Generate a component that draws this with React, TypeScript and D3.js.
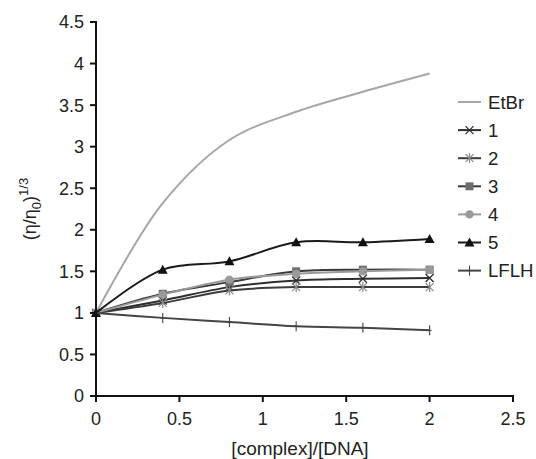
import React from 'react';
import * as d3 from 'd3';

// ratio values [complex]/[DNA]
const ratios = [0, 0.4, 0.8, 1.2, 1.6, 2];

const etbr = [1, 2.32, 3.08, 3.42, 3.66, 3.88];
const c1 = [1, 1.15, 1.31, 1.39, 1.41, 1.42];
const c2 = [1, 1.12, 1.27, 1.31, 1.31, 1.31];
const c3 = [1, 1.23, 1.37, 1.5, 1.52, 1.52];
const c4 = [1, 1.22, 1.4, 1.47, 1.5, 1.52];
const c5 = [1, 1.52, 1.62, 1.85, 1.85, 1.89];
const lflh = [1, 0.94, 0.89, 0.84, 0.82, 0.79];

const xTicks = [0, 0.5, 1, 1.5, 2, 2.5];
const yTicks = [0, 0.5, 1, 1.5, 2, 2.5, 3, 3.5, 4, 4.5];

const seriesNames = ['EtBr', '1', '2', '3', '4', '5', 'LFLH'];
const seriesValues = [etbr, c1, c2, c3, c4, c5, lflh];
const seriesColors = ['#a6a6a6', '#2e2e2e', '#3c3c3c', '#3a3a3a', '#9a9a9a', '#1a1a1a', '#444444'];
const markerTypes = ['none', 'x', 'star', 'square', 'circle', 'triangle', 'plus'];
const markerColors = ['#a6a6a6', '#2e2e2e', '#8a8a8a', '#6e6e6e', '#9a9a9a', '#111111', '#444444'];

const FONT = 'Liberation Sans, Arial, sans-serif';

const Marker = ({ type, x, y, color }: { type: string; x: number; y: number; color: string }) => {
  if (type === 'x') {
    return (
      <g stroke={color} strokeWidth={1.3}>
        <line x1={x - 4} y1={y - 4} x2={x + 4} y2={y + 4} />
        <line x1={x - 4} y1={y + 4} x2={x + 4} y2={y - 4} />
      </g>
    );
  }
  if (type === 'star') {
    return (
      <g stroke={color} strokeWidth={1.2}>
        <line x1={x - 4} y1={y - 4} x2={x + 4} y2={y + 4} />
        <line x1={x - 4} y1={y + 4} x2={x + 4} y2={y - 4} />
        <line x1={x} y1={y - 5} x2={x} y2={y + 5} />
      </g>
    );
  }
  if (type === 'square') return <rect x={x - 4} y={y - 4} width={8} height={8} fill={color} />;
  if (type === 'circle') return <circle cx={x} cy={y} r={4.2} fill={color} />;
  if (type === 'triangle') return <path d={`M${x},${y - 5}L${x + 5},${y + 4}L${x - 5},${y + 4}Z`} fill={color} />;
  if (type === 'plus') {
    return (
      <g stroke={color} strokeWidth={1.1}>
        <line x1={x} y1={y - 5} x2={x} y2={y + 5} />
        <line x1={x - 2} y1={y} x2={x + 2} y2={y} />
      </g>
    );
  }
  return null;
};

export default function App() {
  const width = 536;
  const height = 459;
  const left = 96;
  const top = 22;
  const bottom = 396;
  const right = 513;

  const x = d3.scaleLinear().domain([0, 2.5]).range([left, right]);
  const y = d3.scaleLinear().domain([0, 4.5]).range([bottom, top]);

  const line = d3
    .line<number>()
    .x((_, i) => x(ratios[i]))
    .y(d => y(d))
    .curve(d3.curveCatmullRom.alpha(0.5));

  const legendX = 458;
  const legendY0 = 102;
  const legendStep = 28.1;

  return (
    <svg width={width} height={height} style={{ position: 'absolute', left: 0, top: 0, background: '#fff' }}>
      {/* series, EtBr first so the darker ones sit on top */}
      {seriesValues.map((vals, s) => (
        <g key={seriesNames[s]}>
          <path d={line(vals) || ''} fill="none" stroke={seriesColors[s]} strokeWidth={2} />
          {vals.map((v, i) => (
            <Marker key={i} type={markerTypes[s]} x={x(ratios[i])} y={y(v)} color={markerColors[s]} />
          ))}
        </g>
      ))}

      {/* axes */}
      <line x1={left} x2={left} y1={top - 1} y2={bottom + 1} stroke="#111" strokeWidth={2} />
      <line x1={left - 1} x2={right + 1} y1={bottom} y2={bottom} stroke="#111" strokeWidth={2} />
      {yTicks.map(t => (
        <g key={'y' + t}>
          <line x1={left - 6} x2={left} y1={y(t)} y2={y(t)} stroke="#111" strokeWidth={2} />
          <text x={left - 12} y={y(t)} dy="0.36em" textAnchor="end" fontFamily={FONT} fontSize={18} fill="#222">
            {t}
          </text>
        </g>
      ))}
      {xTicks.map(t => (
        <g key={'x' + t}>
          <line x1={x(t)} x2={x(t)} y1={bottom} y2={bottom + 6} stroke="#111" strokeWidth={2} />
          <text x={x(t)} y={bottom + 29} textAnchor="middle" fontFamily={FONT} fontSize={18} fill="#222">
            {t}
          </text>
        </g>
      ))}

      <text x={300} y={455} textAnchor="middle" fontFamily={FONT} fontSize={19} fill="#222">
        [complex]/[DNA]
      </text>
      <text transform={`translate(36,209) rotate(-90)`} textAnchor="middle" fontFamily={FONT} fontSize={18} fill="#222">
        (η/η<tspan fontSize={13} dy={5}>0</tspan>
        <tspan dy={-5}>)</tspan>
        <tspan fontSize={13} dy={-8}>1/3</tspan>
      </text>

      {/* legend */}
      {seriesNames.map((name, s) => {
        const ly = legendY0 + s * legendStep;
        return (
          <g key={'lg' + name}>
            <line x1={legendX} x2={legendX + 23} y1={ly} y2={ly} stroke={seriesColors[s]} strokeWidth={2} />
            <Marker type={markerTypes[s]} x={legendX + 11.5} y={ly} color={markerColors[s]} />
            <text x={legendX + 30} y={ly} dy="0.36em" fontFamily={FONT} fontSize={18.6} fill="#222">
              {name}
            </text>
          </g>
        );
      })}
    </svg>
  );
}
